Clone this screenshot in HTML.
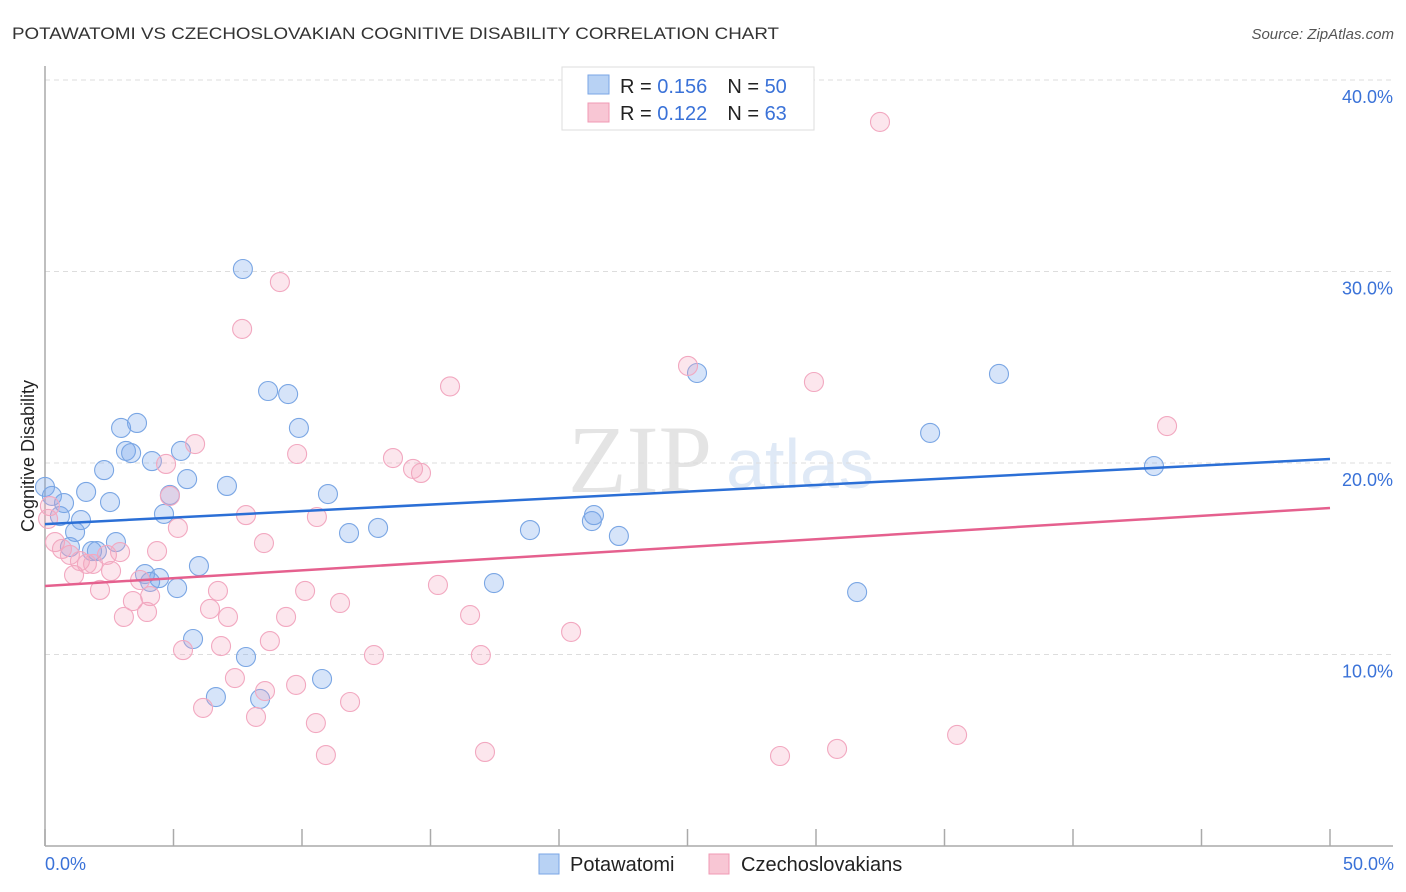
<!DOCTYPE html>
<html><head><meta charset="utf-8"><style>
body{margin:0;background:#fff;font-family:"Liberation Sans",sans-serif;}
svg{display:block}
</style></head><body>
<svg id="chart" width="1406" height="892">
<text x="12" y="39" font-size="17" fill="#333" textLength="767" lengthAdjust="spacingAndGlyphs">POTAWATOMI VS CZECHOSLOVAKIAN COGNITIVE DISABILITY CORRELATION CHART</text>
<text x="1394" y="39" font-size="15" fill="#555" font-style="italic" text-anchor="end">Source: ZipAtlas.com</text>
<text x="640" y="492" font-size="96" fill="#e4e4e4" font-family="Liberation Serif,serif" text-anchor="middle">ZIP</text>
<text x="800" y="488" font-size="70" fill="#dfe9f6" text-anchor="middle">atlas</text>
<g id="grid"></g>
<g id="axes"></g>
<g id="pts"></g>
<g id="lines"></g>
<text transform="translate(34,456) rotate(-90)" font-size="18" fill="#222" text-anchor="middle">Cognitive Disability</text>
<text x="45" y="870" font-size="18" fill="#3a72d8">0.0%</text>
<text x="1394" y="870" font-size="18" fill="#3a72d8" text-anchor="end">50.0%</text>
<g>
<rect x="562" y="67" width="252" height="63" fill="#fff" stroke="#ddd"/>
<rect x="588" y="75" width="21" height="19" fill="#b8d2f4" stroke="#7aa6e6"/>
<rect x="588" y="103" width="21" height="19" fill="#f8c6d4" stroke="#f09ab4"/>
<text x="620" y="93" font-size="20" fill="#222">R = <tspan fill="#3a72d8">0.156</tspan><tspan dx="20">N = </tspan><tspan fill="#3a72d8">50</tspan></text>
<text x="620" y="120" font-size="20" fill="#222">R = <tspan fill="#3a72d8">0.122</tspan><tspan dx="20">N = </tspan><tspan fill="#3a72d8"> 63</tspan></text>
</g>
<g>
<rect x="539" y="854" width="20" height="20" fill="#b8d2f4" stroke="#7aa6e6"/>
<text x="570" y="871" font-size="20" fill="#222">Potawatomi</text>
<rect x="709" y="854" width="20" height="20" fill="#f8c6d4" stroke="#f09ab4"/>
<text x="741" y="871" font-size="20" fill="#222">Czechoslovakians</text>
</g>
</svg>
<script>
const yTicks=[10,20,30,40];
const yTickLabels=["10.0%","20.0%","30.0%","40.0%"];
const xTicks=[0,5,10,15,20,25,30,35,40,45,50];
const blueX=[0.0,0.27,0.58,0.74,1.17,1.40,0.97,1.60,1.83,2.02,2.30,2.53,2.76,2.96,3.15,3.35,3.58,3.89,4.09,4.16,4.44,4.63,4.86,5.14,5.29,5.53,5.76,5.99,6.65,7.08,7.70,7.82,8.37,8.68,9.46,9.88,10.78,11.01,11.83,12.96,17.47,18.87,21.28,21.36,22.33,25.37,31.60,34.44,37.12,43.15];
const blueY=[18.75,18.28,17.23,17.91,16.40,17.02,15.61,18.49,15.40,15.40,19.63,17.96,15.87,21.83,20.63,20.52,22.09,14.20,13.79,20.10,13.99,17.34,18.33,13.47,20.63,19.16,10.81,14.62,7.78,18.80,30.13,9.87,7.68,23.76,23.60,21.83,8.72,18.38,16.34,16.61,13.73,16.50,16.97,17.28,16.19,24.70,13.26,21.57,24.65,19.84];
const pinkX=[0.19,0.39,0.66,0.97,1.13,1.36,1.63,1.87,2.14,2.41,2.57,2.92,3.07,3.42,3.70,3.97,4.09,4.36,4.71,4.86,5.17,5.37,5.84,6.15,6.42,6.73,6.85,7.12,7.39,7.82,7.67,8.21,8.52,8.56,8.75,9.14,9.38,9.77,9.81,10.12,10.54,10.58,10.93,11.48,11.87,12.80,13.54,14.32,14.63,15.29,15.76,16.54,16.96,17.12,20.47,25.02,28.60,29.92,30.82,32.49,35.49,43.66,0.12];
const pinkY=[17.75,15.87,15.51,15.20,14.15,14.88,14.73,14.73,13.37,15.20,14.36,15.35,11.96,12.79,13.89,12.22,13.05,15.40,19.95,18.28,16.61,10.23,20.99,7.21,12.38,13.32,10.44,11.96,8.77,17.28,27.00,6.74,15.82,8.09,10.70,29.45,11.96,8.41,20.47,13.32,6.42,17.18,4.75,12.69,7.52,9.97,20.26,19.69,19.48,13.63,24.00,12.06,9.97,4.91,11.18,25.07,4.70,24.23,5.07,37.81,5.80,21.93,17.08];
const blueTrend=[16.81,20.21];
const pinkTrend=[13.58,17.65];
const NS='http://www.w3.org/2000/svg';
const xs=v=>45+v*25.7, ys=v=>846-v*19.15;
function mk(tag,attrs,parent){const e=document.createElementNS(NS,tag);for(const k in attrs)e.setAttribute(k,attrs[k]);parent.appendChild(e);return e;}
const grid=document.getElementById('grid'),axes=document.getElementById('axes'),pts=document.getElementById('pts'),lines=document.getElementById('lines'),svg=document.getElementById('chart');
yTicks.forEach((t,i)=>{
 const l=mk('line',{x1:45,x2:1393,y1:ys(t),y2:ys(t),stroke:'#ddd','stroke-dasharray':'5,4'},grid);
 
 
 const tx=mk('text',{x:1393,y:ys(t)+23,'font-size':18,fill:'#3a72d8','text-anchor':'end'},svg);
 tx.textContent=yTickLabels[i];
 
 
});
const ya=mk('line',{x1:45,x2:45,y1:66,y2:846,stroke:'#aaa','stroke-width':1.5},axes);


const xa=mk('line',{x1:45,x2:1393,y1:846,y2:846,stroke:'#aaa','stroke-width':1.5},axes);


xTicks.forEach(t=>{
 const k=mk('line',{x1:xs(t),x2:xs(t),y1:829,y2:846,stroke:'#aaa','stroke-width':1.5},axes);
 
 
});
function series(X,Y,fill,stroke,name){X.forEach((x,i)=>{
 const c=mk('circle',{cx:xs(x),cy:ys(Y[i]),r:9.5,fill:fill,stroke:stroke,'stroke-width':1.1},pts);
 
 
});}
series(blueX,blueY,'rgba(120,165,235,0.3)','#7aa6e4','potawatomi-point');
series(pinkX,pinkY,'rgba(245,165,190,0.28)','#f2a8c0','czechoslovakian-point');
const bl=mk('line',{x1:xs(0),x2:xs(50),y1:ys(blueTrend[0]),y2:ys(blueTrend[1]),stroke:'#2b6fd6','stroke-width':2.5},lines);


const pl=mk('line',{x1:xs(0),x2:xs(50),y1:ys(pinkTrend[0]),y2:ys(pinkTrend[1]),stroke:'#e5608e','stroke-width':2.5},lines);


</script>
</body></html>
